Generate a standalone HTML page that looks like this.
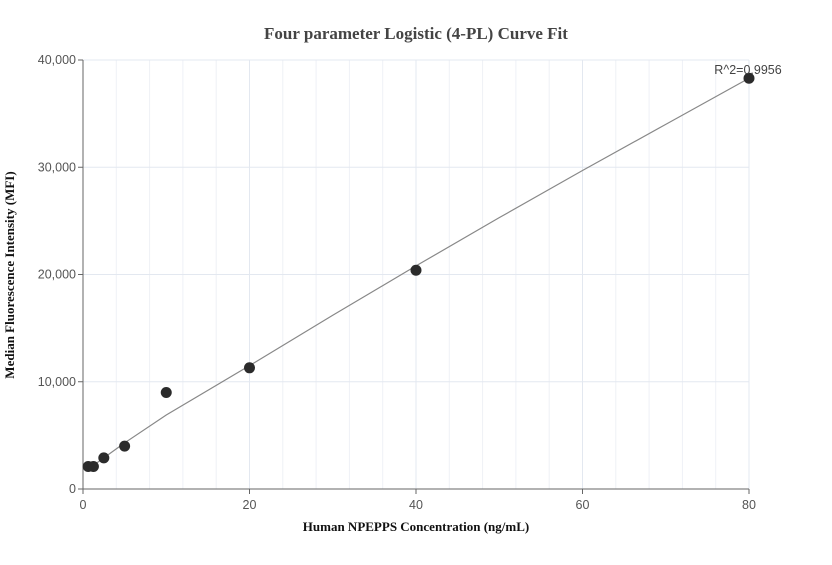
<!DOCTYPE html>
<html><head><meta charset="utf-8"><style>
body{margin:0;background:#fff;width:832px;height:560px;overflow:hidden}
svg text{font-family:"Liberation Sans",sans-serif}
</style></head><body>
<svg width="832" height="560">
<text x="416" y="39" text-anchor="middle" style="font-family:'Liberation Serif',serif" font-weight="bold" font-size="17" fill="#444">Four parameter Logistic (4-PL) Curve Fit</text>
<g id="grid"></g><g id="axes"></g><g id="fit"></g><g id="pts"></g>
<text x="748" y="74" text-anchor="middle" font-size="12.5" fill="#444">R^2=0.9956</text>
<text x="416" y="531" text-anchor="middle" style="font-family:'Liberation Serif',serif" font-weight="bold" font-size="13" fill="#111">Human NPEPPS Concentration (ng/mL)</text>
<text transform="translate(14,275) rotate(-90)" text-anchor="middle" style="font-family:'Liberation Serif',serif" font-weight="bold" font-size="13" fill="#111">Median Fluorescence Intensity (MFI)</text>
</svg>
<script>
const xs=[0.625,1.25,2.5,5,10,20,40,80];
const ys=[2100,2100,2900,4000,9000,11300,20400,38300];
const fitX=[0.625,1.25,5,10,20,30,40,50,60,70,80];
const fitY=[1900,2200,4300,6900,11500,16200,20800,25300,29700,34000,38300];
const xTicks=[0,20,40,60,80];
const yTicks=[0,10000,20000,30000,40000];
const X=v=>83+v*(749-83)/80, Y=v=>489-v*(489-60)/40000;
const ns="http://www.w3.org/2000/svg";
function mk(p,t,a){const e=document.createElementNS(ns,t);for(const k in a)e.setAttribute(k,a[k]);document.getElementById(p).appendChild(e);return e;}
for(let v=4;v<80;v+=4){if(v%20){const l=mk('grid','line',{x1:X(v),x2:X(v),y1:60,y2:489,stroke:'#eef1f6'});

}}
xTicks.forEach(v=>{if(v>0){const l=mk('grid','line',{x1:X(v),x2:X(v),y1:60,y2:489,stroke:'#e3e8f0'});

}
mk('axes','line',{x1:X(v),x2:X(v),y1:489,y2:494,stroke:'#666'});
const t=mk('axes','text',{x:X(v),y:509,'text-anchor':'middle','font-size':12.5,fill:'#555'});t.textContent=v;

});
yTicks.forEach(v=>{if(v>0){const l=mk('grid','line',{x1:83,x2:749,y1:Y(v),y2:Y(v),stroke:'#e3e8f0'});

}
mk('axes','line',{x1:78,x2:83,y1:Y(v),y2:Y(v),stroke:'#666'});
const t=mk('axes','text',{x:76,y:Y(v)+4,'text-anchor':'end','font-size':12.5,fill:'#555'});t.textContent=v.toLocaleString('en-US');

});
const ax=mk('axes','path',{d:`M83,60V489H749`,stroke:'#666',fill:'none'});


const fl=mk('fit','polyline',{points:fitX.map((v,i)=>X(v)+','+Y(fitY[i])).join(' '),fill:'none',stroke:'#888','stroke-width':1.2});


xs.forEach((v,i)=>{const c=mk('pts','circle',{cx:X(v),cy:Y(ys[i]),r:5.5,fill:'#2b2b2b'});

});
</script>
</body></html>
